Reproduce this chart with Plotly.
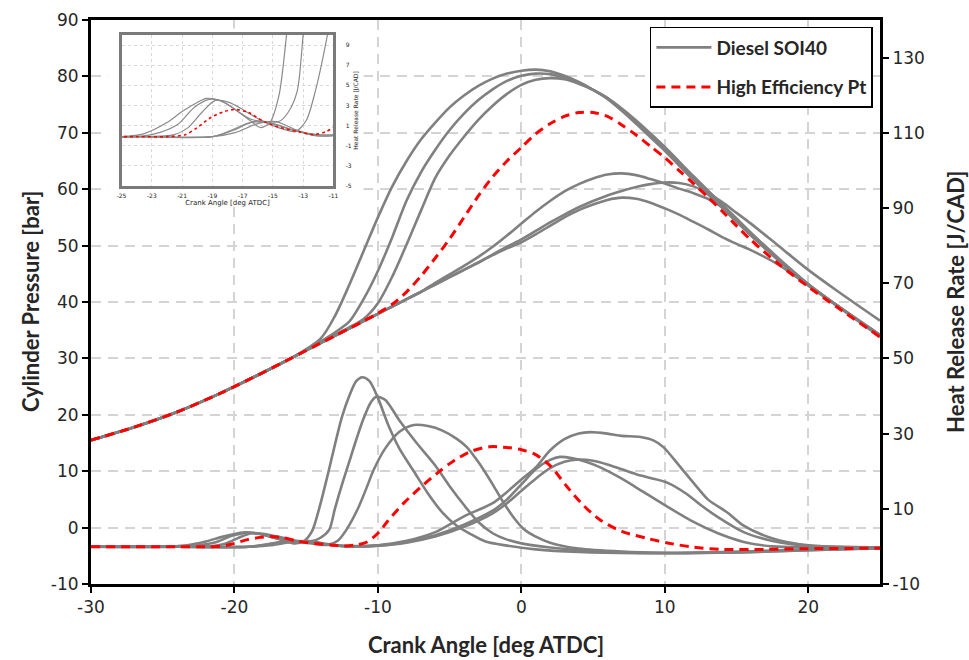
import plotly.graph_objects as go

# ---------------- data ----------------
# Cylinder pressure [bar] sampled on a common crank-angle grid
PX = [-30, -27, -24, -21, -18, -16, -14, -13, -12, -11, -10, -9, -8, -7, -6, -5, -4, -3, -2, -1,
      0, 1, 2, 3, 4, 5, 6, 7, 8, 9, 10, 11, 12, 13, 14, 15, 16, 18, 20, 22, 25]

P_A1 = [15.5, 17.8, 20.5, 23.8, 27.5, 30.1,
        33.5, 37.5, 43.0, 49.0, 55.0, 60.5, 65.0, 68.8, 71.8, 74.5, 76.6, 78.3, 79.6, 80.5,
        81.0, 81.2, 80.9, 80.1, 79.0, 77.6, 76.0, 73.9, 71.6, 69.2, 66.8, 64.2, 61.6, 59.1, 56.7, 54.2, 51.8,
        47.2, 43.0, 39.4, 34.2]
P_A2 = [15.5, 17.8, 20.5, 23.8, 27.5, 30.1,
        33.0, 34.6, 36.5, 40.5, 45.5, 51.5, 58.0, 63.0, 67.0, 70.5, 73.4, 75.8, 77.7, 79.2,
        80.1, 80.5, 80.4, 79.8, 78.9, 77.6, 76.1, 74.1, 71.9, 69.5, 67.1, 64.5, 61.9, 59.4, 57.0, 54.5, 52.0,
        47.4, 43.1, 39.4, 34.0]
P_A3 = [15.5, 17.8, 20.5, 23.8, 27.5, 30.1,
        32.8, 34.2, 35.5, 37.0, 39.8, 44.5, 50.2, 56.2, 62.0, 66.0, 69.3, 72.3, 74.8, 76.9,
        78.5, 79.4, 79.7, 79.5, 78.7, 77.6, 76.2, 74.3, 72.2, 69.9, 67.5, 64.9, 62.3, 59.8, 57.3, 54.8, 52.3,
        47.6, 43.2, 39.4, 33.8]
P_B1 = [15.5, 17.8, 20.5, 23.8, 27.5, 30.1,
        32.7, 34.0, 35.3, 36.6, 37.9, 39.2, 40.5, 41.8, 43.4, 44.9, 46.4, 48.0, 49.8, 51.8,
        53.9, 56.0, 57.9, 59.6, 60.9, 61.9, 62.6, 62.8, 62.5, 61.8, 61.0, 60.1, 59.3, 58.3, 56.8, 54.4, 51.9,
        47.3, 43.1, 39.4, 34.1]
P_B2 = [15.5, 17.8, 20.5, 23.8, 27.5, 30.1,
        32.7, 34.0, 35.3, 36.6, 37.9, 39.2, 40.5, 41.8, 43.1, 44.4, 45.7, 47.0, 48.4, 49.8,
        51.1, 52.6, 54.1, 55.5, 56.8, 57.9, 58.9, 59.7, 60.4, 60.9, 61.2, 61.1, 60.5, 59.3, 57.7, 55.8, 53.9,
        49.8, 45.7, 42.0, 36.7]
P_B3 = [15.5, 17.8, 20.5, 23.8, 27.5, 30.1,
        32.7, 34.0, 35.3, 36.6, 37.9, 39.2, 40.5, 41.8, 43.1, 44.4, 45.7, 47.0, 48.3, 49.5,
        50.6, 52.0, 53.5, 55.0, 56.3, 57.3, 58.1, 58.5, 58.3, 57.6, 56.6, 55.5, 54.2, 52.9, 51.5, 50.3, 49.2,
        46.5, 42.9, 39.3, 34.0]
P_HE = [15.5, 17.8, 20.5, 23.8, 27.5, 30.1,
        32.7, 34.0, 35.3, 36.6, 38.0, 39.6, 41.8, 44.6, 47.8, 51.2, 55.0, 58.8, 62.2, 65.0,
        67.4, 69.8, 71.6, 72.9, 73.6, 73.6, 72.9, 71.4, 69.6, 67.6, 65.6, 63.3, 61.0, 58.6, 56.1, 53.5, 51.0,
        46.6, 42.7, 39.1, 33.8]

# Heat release rate [J/CAD], each curve with its own crank-angle samples
H_A1_X = [-30, -25, -23.5, -22, -21, -20, -19.4, -18.5, -17.5, -16.5, -15.8, -15.2, -14.6, -14.1, -13.5, -13,
          -12.5, -12, -11.5, -11.1, -10.6, -10, -9.3, -8.5, -7.5, -6.5, -5.5, -4.5, -3.5, -2.5, -1, 1, 4, 8,
          12, 16, 20, 25]
H_A1 = [-0.1, -0.1, 0.2, 1.3, 2.4, 3.3, 3.7, 3.5, 2.6, 1.5, 0.8, 1.3, 4.0, 10.0, 19.0, 27.0,
        34.5, 40.0, 44.0, 45.0, 44.0, 39.5, 32.5, 26.0, 20.0, 14.0, 9.0, 5.5, 3.2, 1.3, 0.2, -0.8, -1.5, -1.8,
        -1.7, -1.3, -0.8, -0.5]
H_A2_X = [-30, -24, -22.5, -21.3, -20.2, -19.2, -18.2, -17.3, -16.4, -15.5, -14.6, -14, -13.4, -13, -12.5,
          -12, -11.5, -11, -10.5, -10.1, -9.5, -8.5, -7.3, -6, -5, -4, -3, -2, -1, 0, 2, 5, 10, 15, 20, 25]
H_A2 = [-0.1, -0.1, 0.3, 1.1, 2.8, 3.6, 3.3, 2.4, 1.6, 1.4, 1.4, 2.3, 4.4, 10.0, 16.5,
        22.5, 28.5, 34.0, 38.3, 39.8, 39.0, 33.5, 27.5, 21.5, 16.0, 11.0, 6.5, 3.5, 1.8, 0.8, -0.3, -1.3, -1.8,
        -1.6, -1.0, -0.5]
H_A3_X = [-30, -24, -21.5, -20.6, -19.7, -18.8, -17.9, -17, -16, -15, -14.2, -13.5, -12.8, -12.2, -11.4,
          -10.8, -10.3, -9.5, -8.5, -7.5, -6.5, -5.5, -4.5, -3.8, -3.2, -2.6, -2, -1.3, -0.5, 0.2, 0.9, 2, 4,
          7, 10, 15, 20, 25]
H_A3 = [-0.1, -0.1, 0.1, 0.8, 2.3, 3.5, 3.3, 2.6, 1.7, 1.0, 0.6, 0.4, 1.5, 4.4, 10.0,
        15.5, 20.3, 26.0, 30.5, 32.3, 32.0, 30.8, 28.6, 26.4, 23.5, 20.2, 16.5, 12.0, 7.5, 4.5, 2.8, 1.0, -0.6,
        -1.4, -1.7, -1.6, -1.0, -0.5]
H_B1_X = [-30, -24, -19, -17.5, -16.3, -15, -13.5, -12, -10, -8, -6, -4, -2, -1, 0, 1, 2, 3, 4, 4.8, 6, 7,
          8.3, 9.2, 9.9, 11, 12, 13, 14.4, 15.5, 17.2, 19, 21, 25]
H_B1 = [-0.1, -0.1, -0.1, 0.6, 1.4, 1.2, 0.5, 0.1, 0.3, 1.5, 3.8, 8.0, 11.5, 14.5, 17.8, 21.0, 25.5, 28.5,
        30.0, 30.4, 30.0, 29.4, 29.1, 28.2, 26.4, 21.5, 16.9, 12.5, 8.9, 5.5, 2.5, 0.8, 0.0, -0.3]
H_B2_X = [-30, -24, -19, -17.8, -16.5, -15.3, -14, -12.2, -10, -8, -6, -4, -2, -1, 0, 1, 2, 2.7, 3.5, 4.5,
          5.5, 7, 8.5, 10.2, 12, 13.7, 15.5, 17.5, 20, 25]
H_B2 = [-0.1, -0.1, -0.1, 0.5, 1.3, 1.3, 0.7, 0.0, 0.2, 1.2, 3.0, 5.8, 9.5, 12.5, 16.5, 20.5, 23.0, 23.8,
        23.5, 22.5, 21.0, 18.0, 14.5, 10.5, 6.5, 3.5, 1.2, 0.0, -0.3, -0.4]
H_B3_X = [-30, -24, -19, -17.5, -16, -14.8, -13.5, -12.2, -10, -8, -6, -4, -2, -1, 0, 1, 2, 3, 4, 5, 6, 7,
          8, 9, 10.2, 11.5, 12.5, 13.7, 15.5, 17.2, 19, 21, 25]
H_B3 = [-0.1, -0.1, -0.1, 0.3, 1.2, 1.4, 0.6, 0.0, 0.2, 1.0, 2.6, 5.2, 8.8, 11.5, 14.8, 18.0, 20.8, 22.5,
        23.1, 22.8, 21.8, 20.5, 19.2, 18.2, 16.9, 14.0, 11.0, 7.8, 3.8, 1.7, 0.5, 0.0, -0.3]
H_HE_X = [-30, -24, -22, -20.8, -20, -19.1, -18.2, -17.5, -16.6, -15.6, -14.5, -13.3, -12.3, -11.5, -10.8,
          -10, -9.3, -8.2, -7, -5.8, -4.7, -3.5, -2.2, -1, 0, 0.9, 2, 3.2, 4.3, 5.5, 7, 8.8, 10.2, 12, 14, 17,
          20, 25]
H_HE = [-0.1, -0.1, -0.1, 0.1, 0.8, 1.8, 2.4, 2.6, 2.3, 1.4, 0.8, 0.4, 0.1, 0.4, 1.1,
        3.5, 6.8, 11.5, 15.8, 19.7, 22.8, 25.3, 26.5, 26.3, 25.7, 24.6, 21.5, 15.8, 11.0, 7.0, 4.0, 2.1, 0.9,
        -0.2, -0.8, -0.8, -0.6, -0.5]

SERIES_NAMES = ["Diesel SOI40", "High Efficiency Pt"]
X_TITLE = "Crank Angle [deg ATDC]"
Y_TITLE = "Cylinder Pressure [bar]"
Y2_TITLE = "Heat Release Rate [J/CAD]"

# tick values and labels (plain hyphen minus as in the original)
X_TICKS = [-30, -20, -10, 0, 10, 20]
Y_TICKS = [-10, 0, 10, 20, 30, 40, 50, 60, 70, 80, 90]
Y2_TICKS = [-10, 10, 30, 50, 70, 90, 110, 130]
XI_TICKS = [-25, -23, -21, -19, -17, -15, -13, -11]
YI_TICKS = [-5, -3, -1, 1, 3, 5, 7, 9]


def labels(vals):
    return [str(v) for v in vals]


# ---------------- styling ----------------
GREY = "#808080"
RED = "#ff0000"
TXT = "#262626"
TICKFONT = dict(family="DejaVu Sans", size=17, color=TXT)
TITLEFONT = dict(family="Lato", size=22, color=TXT, weight="bold")

fig = go.Figure()

grey_p = [P_A1, P_A2, P_A3, P_B1, P_B2, P_B3]
grey_h = [(H_A1_X, H_A1), (H_A2_X, H_A2), (H_A3_X, H_A3),
          (H_B1_X, H_B1), (H_B2_X, H_B2), (H_B3_X, H_B3)]

line_g = dict(color=GREY, width=2.6, shape="spline", smoothing=0.8)
line_r = dict(color=RED, width=3, dash="9px,6px", shape="spline", smoothing=0.8)

for i, p in enumerate(grey_p):
    fig.add_trace(go.Scatter(x=PX, y=p, mode="lines", line=line_g, name=SERIES_NAMES[0],
                             legendgroup="g1", showlegend=(i == 0), xaxis="x", yaxis="y"))
for hx, hy in grey_h:
    fig.add_trace(go.Scatter(x=hx, y=hy, mode="lines", line=line_g, name=SERIES_NAMES[0],
                             legendgroup="g1", showlegend=False, xaxis="x", yaxis="y2"))
fig.add_trace(go.Scatter(x=PX, y=P_HE, mode="lines", line=line_r, name=SERIES_NAMES[1],
                         legendgroup="g2", showlegend=True, xaxis="x", yaxis="y"))
fig.add_trace(go.Scatter(x=H_HE_X, y=H_HE, mode="lines", line=line_r, name=SERIES_NAMES[1],
                         legendgroup="g2", showlegend=False, xaxis="x", yaxis="y2"))

# inset (zoom of the early heat release)
line_gi = dict(color="#8a8a8a", width=1.2, shape="spline", smoothing=0.8)
line_ri = dict(color=RED, width=1.6, dash="dot", shape="spline", smoothing=0.8)
for hx, hy in grey_h:
    fig.add_trace(go.Scatter(x=hx, y=hy, mode="lines", line=line_gi, showlegend=False,
                             xaxis="x3", yaxis="y3"))
fig.add_trace(go.Scatter(x=H_HE_X, y=H_HE, mode="lines", line=line_ri, showlegend=False,
                         xaxis="x3", yaxis="y3"))

grid = dict(showgrid=True, gridcolor="#d4d4d4", gridwidth=1.5, griddash="10px,7px")
axline = dict(showline=True, linecolor="black", linewidth=3, ticks="outside", ticklen=6,
              tickwidth=2, tickcolor="black", zeroline=False, tickfont=TICKFONT, automargin=False)
inset_font = dict(family="DejaVu Sans", size=6, color=TXT)

fig.update_layout(
    width=969, height=660,
    margin=dict(l=91, r=89, t=20, b=76, autoexpand=False),
    paper_bgcolor="white", plot_bgcolor="white",
    font=dict(family="Lato", color=TXT),
    xaxis=dict(domain=[0, 1], range=[-30, 25], tickvals=X_TICKS, ticktext=labels(X_TICKS),
               mirror=True, anchor="y", **grid, **axline),
    yaxis=dict(range=[-10, 90], tickvals=Y_TICKS, ticktext=labels(Y_TICKS), anchor="x",
               **grid, **axline),
    yaxis2=dict(range=[-10, 140], tickvals=Y2_TICKS, ticktext=labels(Y2_TICKS),
                overlaying="y", side="right", anchor="x", showgrid=False, **axline),
    xaxis3=dict(domain=[0.0387, 0.3073], anchor="y3", range=[-25, -11],
                tickvals=XI_TICKS, ticktext=labels(XI_TICKS),
                showline=True, linecolor="#7a7a7a", linewidth=3, mirror=True, ticks="",
                showgrid=True, gridcolor="#d8d8d8", gridwidth=1, griddash="dot", zeroline=False,
                tickfont=inset_font, ticklabelstandoff=2,
                title=dict(text=X_TITLE, font=dict(family="DejaVu Sans", size=7, color=TXT), standoff=2)),
    yaxis3=dict(domain=[0.7057, 0.9734], anchor="x3", side="right", range=[-5, 10],
                tickvals=YI_TICKS, ticktext=labels(YI_TICKS),
                showline=True, linecolor="#7a7a7a", linewidth=3, mirror=True, ticks="",
                showgrid=True, gridcolor="#d8d8d8", gridwidth=1, griddash="dot", zeroline=False,
                tickfont=inset_font, ticklabelstandoff=8,
                title=dict(text=Y2_TITLE, font=inset_font, standoff=2)),
    legend=dict(x=0.991, xanchor="right", y=0.9876, yanchor="top", bgcolor="white",
                bordercolor="black", borderwidth=1.5, tracegroupgap=12, itemwidth=55,
                font=dict(family="Lato", size=19, color=TXT, weight="bold")),
    shapes=[dict(type="rect", xref="x", yref="y", x0=-28.8, x1=-11.0, y0=57.0, y1=88.5,
                 fillcolor="white", line=dict(width=0), layer="between")],
    annotations=[
        dict(text=X_TITLE, xref="paper", yref="paper", x=0.5, y=-0.108, xanchor="center",
             yanchor="middle", showarrow=False, font=TITLEFONT),
        dict(text=Y_TITLE, xref="paper", yref="paper", x=-0.0773, y=0.5, xanchor="center",
             yanchor="middle", textangle=-90, showarrow=False, font=TITLEFONT),
        dict(text=Y2_TITLE, xref="paper", yref="paper", x=1.095, y=0.5, xanchor="center",
             yanchor="middle", textangle=-90, showarrow=False, font=TITLEFONT),
    ],
)

fig.write_html("out.html")
